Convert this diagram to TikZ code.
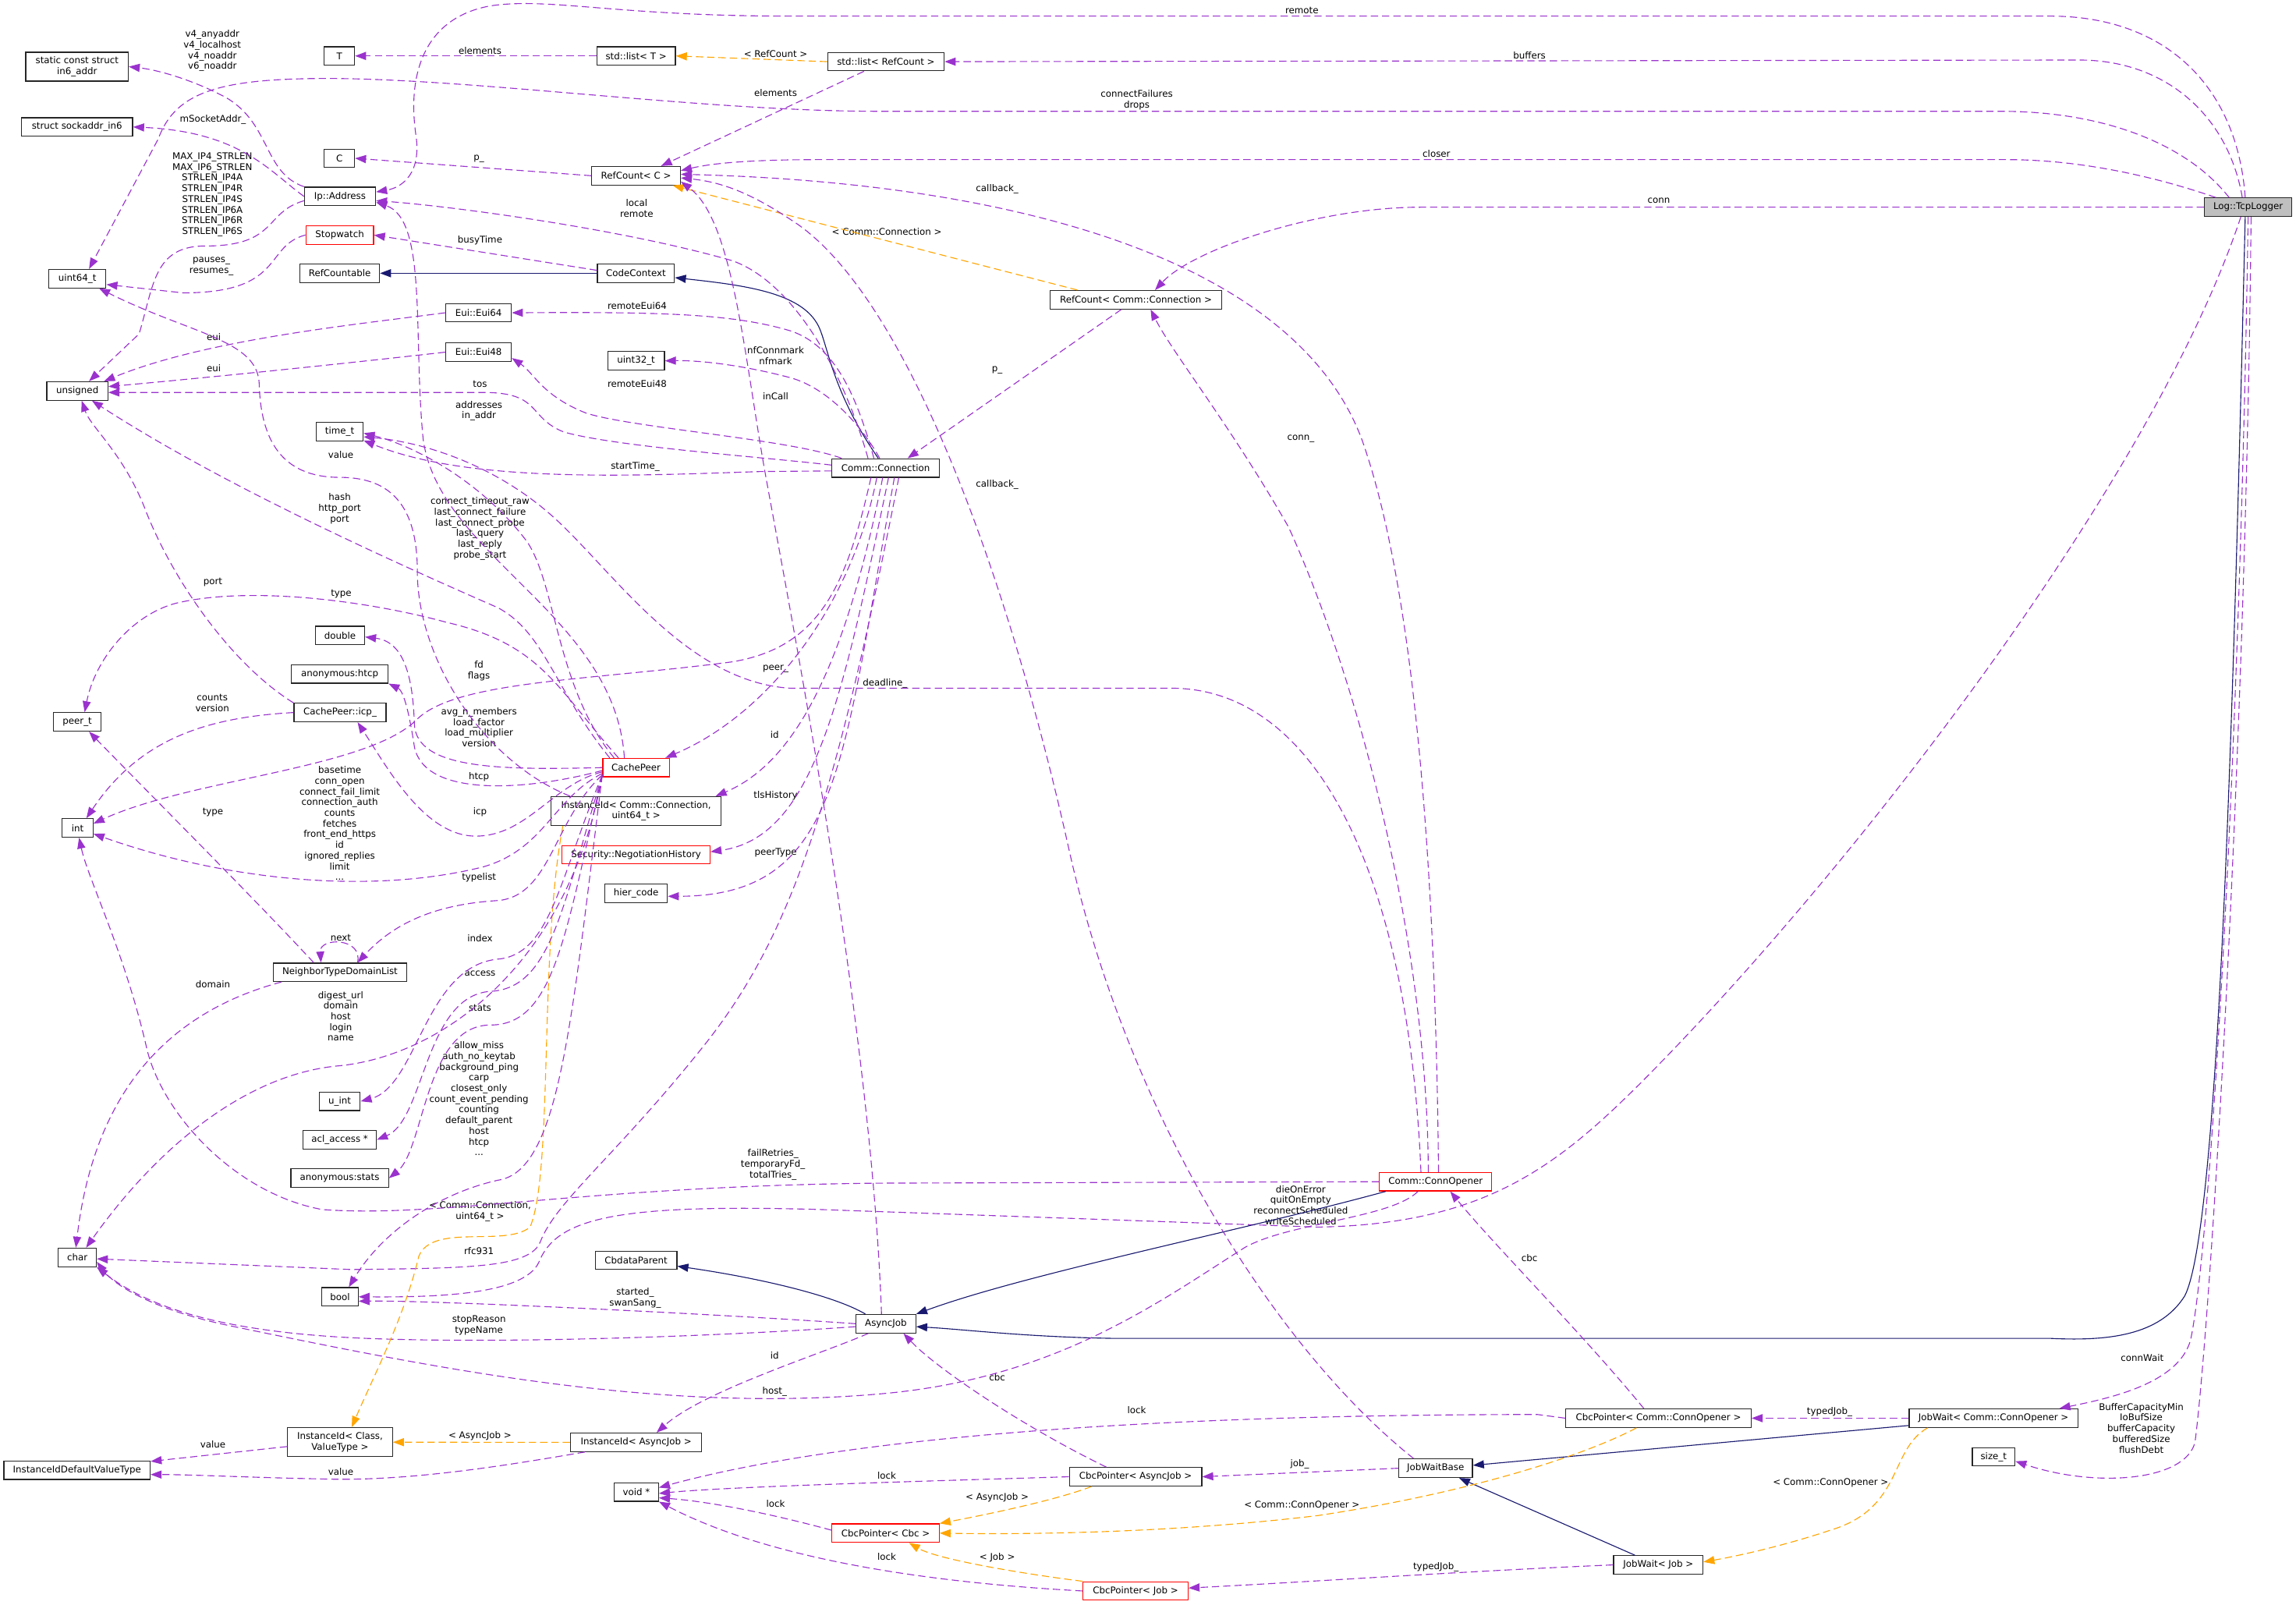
\documentclass[tikz,border=0pt]{standalone}
\usepackage{fontspec}
\setmainfont{DejaVu Sans}
\usetikzlibrary{arrows.meta}
\definecolor{cPurple}{HTML}{9A32CD}
\definecolor{cOrange}{HTML}{FFA500}
\definecolor{cBlue}{HTML}{191970}
\begin{document}
\begin{tikzpicture}[x=1pt,y=-1pt,
  every node/.style={font=\fontsize{6.3pt}{7.3pt}\selectfont},
  cls/.style={draw=black!85, fill=white, line width=0.65pt, inner sep=0pt, minimum height=12.6pt, align=center},
  redcls/.style={cls, draw=red},
  lbl/.style={inner sep=0pt, align=center},
  mem/.style={draw=cPurple, line width=0.6pt, dash pattern=on 5pt off 2.7pt, -{Triangle[length=7.5pt,width=5.5pt]}},
  tpl/.style={draw=cOrange, line width=0.6pt, dash pattern=on 5pt off 2.7pt, -{Triangle[length=7.5pt,width=5.5pt]}},
  inher/.style={draw=cBlue, line width=0.6pt, -{Triangle[length=7.5pt,width=5.5pt]}}]
\useasboundingbox (0,0) rectangle (1568,1096);
\fill[white] (0,0) rectangle (1568,1096);

% ---------------- nodes ----------------
\node[cls, minimum width=59.6pt, fill=black!25] (tcp) at (1535.3,141.5) {Log::TcpLogger};
\node[cls, minimum width=70pt, minimum height=19.7pt] (in6) at (52.6,45.5) {static const struct\\in6\_addr};
\node[cls, minimum width=76pt] (sock) at (52.6,86.7) {struct sockaddr\_in6};
\node[cls, minimum width=20.7pt] (T) at (231.8,38.2) {T};
\node[cls, minimum width=53.7pt] (listT) at (434.4,38.2) {std::list< T >};
\node[cls, minimum width=79.6pt] (listRC) at (605,42.1) {std::list< RefCount >};
\node[cls, minimum width=20.7pt] (C) at (231.8,108.1) {C};
\node[cls, minimum width=60.5pt] (rcC) at (434.4,120) {RefCount< C >};
\node[cls, minimum width=48.6pt] (ip) at (232.2,134.1) {Ip::Address};
\node[redcls, minimum width=46.2pt] (sw) at (232,160.5) {Stopwatch};
\node[cls, minimum width=54.4pt] (rcable) at (232,186.6) {RefCountable};
\node[cls, minimum width=52.6pt] (cc) at (434.3,186.6) {CodeContext};
\node[cls, minimum width=39.1pt] (u64) at (52.8,190.3) {uint64\_t};
\node[cls, minimum width=44.9pt] (eui64) at (326.8,213.6) {Eui::Eui64};
\node[cls, minimum width=44.9pt] (eui48) at (326.8,240.5) {Eui::Eui48};
\node[cls, minimum width=38.7pt] (u32) at (434.4,246.4) {uint32\_t};
\node[cls, minimum width=41.8pt] (uns) at (52.8,267) {unsigned};
\node[cls, minimum width=32pt] (timet) at (232,294.8) {time\_t};
\node[cls, minimum width=116.9pt] (rcConn) at (775.8,204.7) {RefCount< Comm::Connection >};
\node[cls, minimum width=73.2pt] (conn) at (604.8,319.6) {Comm::Connection};
\node[cls, minimum width=33.6pt] (dbl) at (232.2,434) {double};
\node[cls, minimum width=66pt] (htcp) at (232,460.2) {anonymous:htcp};
\node[cls, minimum width=62.9pt] (icp) at (232.2,486.6) {CachePeer::icp\_};
\node[cls, minimum width=32.3pt] (peert) at (52.8,493) {peer\_t};
\node[cls, minimum width=21pt] (int) at (53,565.4) {int};
\node[redcls, minimum width=45.5pt] (cp) at (434.4,524.2) {CachePeer};
\node[cls, minimum width=116pt, minimum height=19.7pt] (iidConn) at (434.4,553.9) {InstanceId< Comm::Connection,\\uint64\_t >};
\node[redcls, minimum width=101pt] (neg) at (434.4,583.7) {Security::NegotiationHistory};
\node[cls, minimum width=42.8pt] (hier) at (434.4,610.1) {hier\_code};
\node[cls, minimum width=90.7pt] (ntdl) at (232.2,664) {NeighborTypeDomainList};
\node[cls, minimum width=28pt] (uint) at (232,752.1) {u\_int};
\node[cls, minimum width=50pt] (acl) at (232,778.4) {acl\_access *};
\node[cls, minimum width=66.6pt] (stats) at (232,804.6) {anonymous:stats};
\node[cls, minimum width=26pt] (char) at (52.8,858.7) {char};
\node[cls, minimum width=24.8pt] (bool) at (232.2,885.6) {bool};
\node[cls, minimum width=55.7pt] (cbdp) at (434.4,860.7) {CbdataParent};
\node[cls, minimum width=40.8pt] (aj) at (605,904) {AsyncJob};
\node[redcls, minimum width=76.6pt] (co) at (980.4,807) {Comm::ConnOpener};
\node[cls, minimum width=71.7pt, minimum height=19.8pt] (iidCV) at (232.2,984.9) {InstanceId< Class,\\ValueType >};
\node[cls, minimum width=99.9pt] (iidDV) at (52.6,1004) {InstanceIdDefaultValueType};
\node[cls, minimum width=89.7pt] (iidAJ) at (434.4,985) {InstanceId< AsyncJob >};
\node[cls, minimum width=30.2pt] (voidp) at (434.6,1018.9) {void *};
\node[cls, minimum width=90.4pt] (cbcAJ) at (775.5,1008.5) {CbcPointer< AsyncJob >};
\node[redcls, minimum width=73.2pt] (cbcCbc) at (604.8,1047) {CbcPointer< Cbc >};
\node[redcls, minimum width=71.7pt] (cbcJob) at (775.5,1086.5) {CbcPointer< Job >};
\node[cls, minimum width=126.6pt] (cbcCO) at (1132.6,968.5) {CbcPointer< Comm::ConnOpener >};
\node[cls, minimum width=50.4pt] (jwb) at (980.4,1002.7) {JobWaitBase};
\node[cls, minimum width=115.3pt] (jwCO) at (1361.4,968.5) {JobWait< Comm::ConnOpener >};
\node[cls, minimum width=29.1pt] (sizet) at (1361.5,994.9) {size\_t};
\node[cls, minimum width=61pt] (jwJob) at (1132.5,1068.7) {JobWait< Job >};

% ---------------- labels ----------------
\node[lbl] (l1) at (145,34.7) {v4\_anyaddr\\v4\_localhost\\v4\_noaddr\\v6\_noaddr};
\node[lbl] (l2) at (327.8,34.5) {elements};
\node[lbl] (l3) at (145.4,81.5) {mSocketAddr\_};
\node[lbl] (l4) at (145,132.9) {MAX\_IP4\_STRLEN\\MAX\_IP6\_STRLEN\\STRLEN\_IP4A\\STRLEN\_IP4R\\STRLEN\_IP4S\\STRLEN\_IP6A\\STRLEN\_IP6R\\STRLEN\_IP6S};
\node[lbl] (l5) at (327.1,108.2) {p\_};
\node[lbl] (l6) at (434.8,142.3) {local\\remote};
\node[lbl] (l7) at (327.8,164) {busyTime};
\node[lbl] (l8) at (144.4,181.9) {pauses\_\\resumes\_};
\node[lbl] (l9) at (435.1,209) {remoteEui64};
\node[lbl] (l10) at (146,230.1) {eui};
\node[lbl] (l11) at (146,251.5) {eui};
\node[lbl] (l12) at (327.8,262.2) {tos};
\node[lbl] (l13) at (435.1,262.2) {remoteEui48};
\node[lbl] (l14) at (327.1,280.6) {addresses\\in\_addr};
\node[lbl] (l15) at (232.7,310.3) {value};
\node[lbl] (l16) at (433.8,318.6) {startTime\_};
\node[lbl] (l17) at (232,347.4) {hash\\http\_port\\port};
\node[lbl] (l18) at (327.8,361) {connect\_timeout\_raw\\last\_connect\_failure\\last\_connect\_probe\\last\_query\\last\_reply\\probe\_start};
\node[lbl] (l19) at (145.4,397.8) {port};
\node[lbl] (l20) at (233,405.6) {type};
\node[lbl] (l21) at (327.1,458.2) {fd\\flags};
\node[lbl] (l22) at (145,480.2) {counts\\version};
\node[lbl] (l23) at (327.1,496.7) {avg\_n\_members\\load\_factor\\load\_multiplier\\version};
\node[lbl] (l24) at (232,562.3) {basetime\\conn\_open\\connect\_fail\_limit\\connection\_auth\\counts\\fetches\\front\_end\_https\\id\\ignored\_replies\\limit\\...};
\node[lbl] (l25) at (327.1,530.7) {htcp};
\node[lbl] (l26) at (145.4,554.7) {type};
\node[lbl] (l27) at (327.8,554.5) {icp};
\node[lbl] (l28) at (327.1,599.4) {typelist};
\node[lbl] (l29) at (232.7,640.5) {next};
\node[lbl] (l30) at (327.8,640.5) {index};
\node[lbl] (l31) at (145.4,672.4) {domain};
\node[lbl] (l32) at (327.8,665) {access};
\node[lbl] (l33) at (232.7,694) {digest\_url\\domain\\host\\login\\name};
\node[lbl] (l34) at (327.8,688.6) {stats};
\node[lbl] (l35) at (327.1,750.3) {allow\_miss\\auth\_no\_keytab\\background\_ping\\carp\\closest\_only\\count\_event\_pending\\counting\\default\_parent\\host\\htcp\\...};
\node[lbl] (l36) at (527.9,795.4) {failRetries\_\\temporaryFd\_\\totalTries\_};
\node[lbl] (l37) at (327.8,827.5) {< Comm::Connection,\\uint64\_t >};
\node[lbl] (l38) at (327.1,854.6) {rfc931};
\node[lbl] (l39) at (433.8,886.4) {started\_\\swanSang\_};
\node[lbl] (l40) at (327.1,905) {stopReason\\typeName};
\node[lbl] (l41) at (145.4,986.6) {value};
\node[lbl] (l42) at (327.8,980.7) {< AsyncJob >};
\node[lbl] (l43) at (232.7,1004.9) {value};
\node[lbl] (l44) at (889.1,7.4) {remote};
\node[lbl] (l45) at (529.7,36.6) {< RefCount >};
\node[lbl] (l46) at (1044.5,37.6) {buffers};
\node[lbl] (l47) at (529.7,63.2) {elements};
\node[lbl] (l48) at (776.3,68.2) {connectFailures\\drops};
\node[lbl] (l49) at (981,104.9) {closer};
\node[lbl] (l50) at (681,129.3) {callback\_};
\node[lbl] (l51) at (605.6,158.3) {< Comm::Connection >};
\node[lbl] (l52) at (1132.8,137.2) {conn};
\node[lbl] (l53) at (529.7,242.9) {nfConnmark\\nfmark};
\node[lbl] (l54) at (681,252.5) {p\_};
\node[lbl] (l55) at (529.7,270.8) {inCall};
\node[lbl] (l56) at (888.3,299.8) {conn\_};
\node[lbl] (l57) at (681,330.7) {callback\_};
\node[lbl] (l58) at (529.7,456.8) {peer\_};
\node[lbl] (l59) at (604.4,466.7) {deadline\_};
\node[lbl] (l60) at (529,501.9) {id};
\node[lbl] (l61) at (529.7,543.5) {tlsHistory};
\node[lbl] (l62) at (529.7,582.5) {peerType};
\node[lbl] (l63) at (888.3,823) {dieOnError\\quitOnEmpty\\reconnectScheduled\\writeScheduled};
\node[lbl] (l64) at (1044.5,859.2) {cbc};
\node[lbl] (l65) at (529,925.9) {id};
\node[lbl] (l66) at (681,940.8) {cbc};
\node[lbl] (l67) at (529,950.3) {host\_};
\node[lbl] (l68) at (776.3,963.2) {lock};
\node[lbl] (l69) at (887.6,1000) {job\_};
\node[lbl] (l70) at (605.6,1007.7) {lock};
\node[lbl] (l71) at (681,1022.6) {< AsyncJob >};
\node[lbl] (l72) at (529.7,1027) {lock};
\node[lbl] (l73) at (889.1,1028.3) {< Comm::ConnOpener >};
\node[lbl] (l74) at (605.6,1063.1) {lock};
\node[lbl] (l75) at (681,1063.8) {< Job >};
\node[lbl] (l76) at (980.6,1070.3) {typedJob\_};
\node[lbl] (l77) at (1249.5,964.2) {typedJob\_};
\node[lbl] (l78) at (1463,927.4) {connWait};
\node[lbl] (l79) at (1462.3,975.3) {BufferCapacityMin\\IoBufSize\\bufferCapacity\\bufferedSize\\flushDebt};
\node[lbl] (l80) at (1250.2,1012.4) {< Comm::ConnOpener >};

% ---------------- TcpLogger edges ----------------
\draw[mem] ([xshift=-2pt]tcp.north) .. controls (1528,60) and (1480,11) .. (1400,11) -- (540,11) .. controls (420,11) and (375,-2) .. (335,4) .. controls (290,12) and (278,50) .. (284,92) .. controls (288,118) and (275,128) .. ([yshift=3pt]ip.east);
\draw[mem] ([xshift=-4pt]tcp.north) .. controls (1522,80) and (1480,41) .. (1420,41) -- (listRC.east);
\draw[mem] ([xshift=-13pt]tcp.north) .. controls (1495,100) and (1440,76) .. (1366,76) -- (600,76) .. controls (470,76) and (300,50) .. (200,54) .. controls (140,56) and (118,68) .. (108,95) -- ([xshift=8pt]u64.north);
\draw[mem] ([xshift=-22pt]tcp.north) .. controls (1470,120) and (1420,109) .. (1370,109) -- (560,109) .. controls (500,109) and (480,113) .. ([yshift=3.5pt]rcC.east);
\draw[mem] (tcp.west) -- (970,141.5) .. controls (900,141.5) and (815,170) .. ([xshift=13pt]rcConn.north);
\draw[inher] ([xshift=-2pt]tcp.south) .. controls (1525,500) and (1515,840) .. (1492,885) .. controls (1475,912) and (1440,916) .. (1400,914) -- (760,914) .. controls (700,913) and (660,908) .. ([yshift=-2pt]aj.east);
\draw[mem] (tcp.south) .. controls (1530,500) and (1510,850) .. (1496,915) .. controls (1488,945) and (1440,955) .. ([xshift=45pt]jwCO.north);
\draw[mem] ([xshift=2pt]tcp.south) .. controls (1534,500) and (1510,900) .. (1499,985) .. controls (1492,1012) and (1430,1016) .. ([yshift=-3pt]sizet.east);
\draw[mem] ([xshift=-5pt]tcp.south) .. controls (1470,330) and (1260,600) .. (1120,740) .. controls (1060,800) and (1010,836) .. (900,838) -- (560,826) .. controls (420,822) and (380,832) .. (368,862) .. controls (358,884) and (300,886) .. (bool.east);

% ---------------- lists / refcount ----------------
\draw[mem] (listT.west) -- (T.east);
\draw[tpl] (listRC.west) -- (listT.east);
\draw[mem] ([xshift=-15pt]listRC.south) -- ([xshift=17pt]rcC.north);
\draw[mem] (rcC.west) -- (C.east);

% ---------------- Ip::Address ----------------
\draw[mem] (ip.north west) .. controls (180,118) and (185,85) .. (155,67) .. controls (135,56) and (110,48) .. (in6.east);
\draw[mem] (ip.west) .. controls (185,118) and (165,90) .. (sock.east);
\draw[mem] ([yshift=-3pt]ip.west) .. controls (180,145) and (190,168) .. (140,168) .. controls (105,168) and (105,195) .. (95,228) -- ([xshift=8pt]uns.north);

% ---------------- Stopwatch / CodeContext ----------------
\draw[mem] (sw.west) .. controls (180,168) and (195,200) .. (125,200) -- ([yshift=-4pt]u64.east);
\draw[mem] ([yshift=2pt]cc.west) -- (sw.east);
\draw[inher] (cc.west) -- (rcable.east);

% ---------------- Comm::Connection ----------------
\draw[inher] ([xshift=-5pt]conn.north) .. controls (570,270) and (566,240) .. (560,225) .. controls (550,200) and (510,195) .. ([yshift=-3pt]cc.east);
\draw[mem] ([xshift=-12pt]conn.north) .. controls (575,250) and (540,192) .. (500,178) .. controls (420,155) and (300,140) .. ([yshift=-3pt]ip.east);
\draw[mem] ([xshift=-8pt]conn.north) .. controls (585,270) and (570,236) .. (540,226) .. controls (500,214) and (450,213) .. (eui64.east);
\draw[mem] ([xshift=-30pt]conn.north) .. controls (540,300) and (430,292) .. (400,282) .. controls (370,270) and (365,255) .. ([yshift=-4pt]eui48.east);
\draw[mem] ([xshift=-4pt]conn.north) .. controls (588,290) and (565,265) .. (540,258) .. controls (510,250) and (480,246) .. (u32.east);
\draw[mem] ([yshift=2pt]conn.west) .. controls (520,312) and (420,305) .. (385,295) .. controls (360,285) and (370,268) .. (330,268) -- ([yshift=-1pt]uns.east);
\draw[mem] ([yshift=-2pt]conn.west) -- (520,322) .. controls (430,325) and (320,330) .. ([yshift=-6pt]timet.east);
\draw[mem] ([xshift=-10pt]rcConn.south) -- ([xshift=15pt]conn.north);
\draw[tpl] ([xshift=-40pt]rcConn.north) -- ([xshift=25pt]rcC.south);
\draw[mem] ([xshift=-10pt]conn.south) .. controls (578,400) and (560,442) .. (500,452) .. controls (400,465) and (310,465) .. (284,492) .. controls (250,525) and (130,532) .. ([yshift=3pt]int.east);
\draw[mem] ([xshift=-6pt]conn.south) .. controls (580,420) and (520,490) .. ([xshift=20pt]cp.north);
\draw[mem] ([xshift=-2pt]conn.south) .. controls (578,450) and (545,520) .. ([xshift=-4pt]iidConn.north east);
\draw[mem] ([xshift=2pt]conn.south) .. controls (575,480) and (555,572) .. ([yshift=2pt]neg.east);
\draw[mem] ([xshift=6pt]conn.south) .. controls (575,520) and (575,612) .. ([yshift=-2pt]hier.east);
\draw[mem] ([xshift=9pt]conn.south) .. controls (570,550) and (540,640) .. (480,715) .. controls (420,790) and (380,820) .. (369,848) .. controls (362,866) and (320,866) .. (240,867) -- ([yshift=-1pt]char.east);

% ---------------- Comm::ConnOpener ----------------
\draw[mem] ([xshift=-5pt]co.north) .. controls (975,650) and (930,470) .. (880,360) .. controls (840,290) and (800,240) .. ([xshift=10pt]rcConn.south);
\draw[mem] ([xshift=2pt]co.north) .. controls (980,560) and (962,390) .. (930,300) .. controls (885,180) and (700,125) .. ([yshift=1pt]rcC.east);
\draw[mem] ([xshift=-10pt]co.north) .. controls (962,600) and (900,470) .. (800,470) -- (540,470) .. controls (470,466) and (420,392) .. (380,355) .. controls (340,318) and (290,302) .. ([yshift=-3.5pt]timet.east);
\draw[mem] (co.west) -- (600,808) .. controls (400,810) and (300,832) .. (220,826) .. controls (160,815) and (110,760) .. (100,715) .. controls (85,650) and (60,600) .. ([xshift=1pt]int.south);
\draw[mem] ([xshift=-12pt]co.south) .. controls (950,832) and (880,835) .. (850,852) .. controls (790,890) and (720,942) .. (600,952) .. controls (450,965) and (300,935) .. (160,906) .. controls (110,896) and (80,880) .. ([yshift=-3pt]char.east);
\draw[inher] ([xshift=-34pt]co.south) .. controls (850,840) and (700,870) .. (aj.north east);

% ---------------- AsyncJob ----------------
\draw[inher] ([xshift=-14pt]aj.north) .. controls (570,885) and (520,873) .. ([yshift=-4pt]cbdp.east);
\draw[mem] (aj.west) .. controls (500,898) and (300,888) .. ([yshift=-3pt]bool.east);
\draw[mem] ([yshift=-2pt]aj.west) .. controls (500,912) and (350,918) .. (250,914) .. controls (150,910) and (100,892) .. (char.south east);
\draw[mem] ([xshift=-12pt]aj.south) .. controls (560,925) and (480,950) .. ([xshift=14pt]iidAJ.north);
\draw[mem] ([xshift=-3pt]aj.north) .. controls (595,700) and (540,420) .. (522,320) .. controls (508,240) and (500,150) .. ([yshift=-4pt]rcC.east);

% ---------------- JobWait / CbcPointer ----------------
\draw[mem] ([xshift=-15pt]jwb.north) .. controls (870,920) and (770,760) .. (730,580) .. controls (690,400) and (620,200) .. (540,150) .. controls (510,130) and (490,124) .. ([yshift=-1.5pt]rcC.east);
\draw[mem] (jwb.west) -- (cbcAJ.east);
\draw[mem] ([xshift=-20pt]cbcAJ.north) .. controls (700,975) and (640,935) .. ([xshift=12pt]aj.south);
\draw[mem] (cbcAJ.west) .. controls (650,1011) and (500,1015) .. ([yshift=-1pt]voidp.east);
\draw[mem] (cbcCO.west) -- (1050,966) .. controls (850,966) and (600,975) .. ([yshift=3pt]voidp.east);
\draw[mem] ([yshift=2pt]cbcCbc.west) .. controls (520,1032) and (480,1025) .. ([yshift=-4pt]voidp.east);
\draw[mem] (cbcJob.west) .. controls (620,1080) and (520,1062) .. (voidp.south east);
\draw[mem] ([xshift=-10pt]cbcCO.north) .. controls (1080,910) and (1020,850) .. ([xshift=10pt]co.south);
\draw[mem] (jwCO.west) -- (cbcCO.east);
\draw[inher] ([yshift=-5pt]jwCO.west) -- ([yshift=2pt]jwb.east);
\draw[tpl] ([xshift=-45pt]jwCO.south) .. controls (1290,990) and (1300,1030) .. (1250,1045) .. controls (1220,1055) and (1190,1062) .. ([yshift=2pt]jwJob.east);
\draw[inher] ([xshift=-16pt]jwJob.north) -- ([xshift=16pt]jwb.south);
\draw[mem] (jwJob.west) .. controls (1000,1073) and (900,1080) .. ([yshift=2pt]cbcJob.east);
\draw[tpl] ([xshift=-30pt]cbcAJ.south) .. controls (720,1025) and (670,1035) .. (cbcCbc.north east);
\draw[tpl] ([xshift=-15pt]cbcCO.south) .. controls (1080,995) and (1000,1020) .. (900,1035) .. controls (800,1047) and (700,1048) .. (cbcCbc.east);
\draw[tpl] (cbcJob.north west) .. controls (700,1075) and (640,1065) .. ([xshift=16pt]cbcCbc.south);

% ---------------- InstanceId ----------------
\draw[tpl] (iidAJ.west) -- (iidCV.east);
\draw[tpl] ([xshift=-50pt]iidConn.south) .. controls (368,650) and (378,800) .. (362,838) .. controls (345,852) and (295,835) .. (286,858) .. controls (276,900) and (255,940) .. ([xshift=8pt]iidCV.north);
\draw[mem] ([yshift=-3pt]iidCV.west) -- ([yshift=6pt]iidDV.east);
\draw[mem] ([xshift=-35pt]iidAJ.south) .. controls (350,1000) and (280,1012) .. (220,1010) .. controls (170,1009) and (130,1007) .. ([yshift=-3pt]iidDV.east);
\draw[mem] ([xshift=-45pt]iidConn.north) .. controls (330,520) and (285,450) .. (285,390) .. controls (285,340) and (262,326) .. (232,326) .. controls (192,326) and (178,300) .. (177,262) .. controls (176,232) and (130,228) .. ([xshift=-5pt]u64.south east);

% ---------------- CachePeer ----------------
\draw[mem] ([xshift=-15pt]cp.north) .. controls (380,470) and (380,400) .. (360,370) .. controls (330,330) and (285,305) .. ([yshift=-1pt]timet.east);
\draw[mem] ([xshift=-8pt]cp.north) .. controls (420,420) and (300,380) .. (289,300) .. controls (282,230) and (292,150) .. ([yshift=-4pt]ip.east);
\draw[mem] ([xshift=-18pt]cp.north) .. controls (378,470) and (372,432) .. (340,415) .. controls (260,380) and (150,330) .. ([xshift=10pt]uns.south);
\draw[mem] ([xshift=-12pt]cp.north) .. controls (380,470) and (370,440) .. (305,425) .. controls (250,410) and (170,400) .. (120,412) .. controls (90,420) and (65,450) .. ([xshift=5pt]peert.north);
\draw[mem] (cp.west) .. controls (340,526) and (285,525) .. (283,495) .. controls (282,460) and (275,438) .. ([yshift=-1pt]dbl.east);
\draw[mem] ([yshift=-2pt]cp.west) .. controls (360,540) and (290,545) .. (283,510) .. controls (280,490) and (276,472) .. (htcp.south east);
\draw[mem] ([yshift=-3pt]cp.west) .. controls (378,535) and (360,571) .. (325,571) .. controls (290,571) and (265,525) .. ([xshift=12pt]icp.south);
\draw[mem] ([yshift=-4pt]cp.west) .. controls (378,545) and (372,580) .. (330,592) .. controls (250,612) and (150,600) .. ([yshift=-4pt]int.east);
\draw[mem] ([yshift=-5pt]cp.west) .. controls (378,560) and (376,612) .. (340,615) .. controls (290,618) and (265,635) .. ([xshift=12pt]ntdl.north);
\draw[mem] ([yshift=-5pt]cp.west) .. controls (382,600) and (376,652) .. (340,655) .. controls (290,660) and (285,742) .. (uint.east);
\draw[mem] ([yshift=-5pt]cp.west) .. controls (384,620) and (376,675) .. (335,677) .. controls (290,680) and (290,765) .. (acl.east);
\draw[mem] ([yshift=-5pt]cp.west) .. controls (386,640) and (378,700) .. (335,700) .. controls (290,700) and (290,785) .. (stats.east);
\draw[mem] ([yshift=-5pt]cp.west) .. controls (388,660) and (300,722) .. (230,728) .. controls (170,734) and (110,780) .. ([xshift=6pt]char.north);
\draw[mem] ([yshift=-5pt]cp.west) .. controls (390,700) and (382,800) .. (340,806) .. controls (300,815) and (262,840) .. ([xshift=6pt]bool.north);

% ---------------- icp_ / NTDL / Eui ----------------
\draw[mem] (icp.north west) .. controls (160,455) and (120,400) .. (100,350) .. controls (85,310) and (62,292) .. ([xshift=3pt]uns.south);
\draw[mem] (icp.west) .. controls (140,490) and (95,505) .. ([xshift=6pt]int.north);
\draw[mem] ([xshift=-18pt]ntdl.north) .. controls (175,615) and (100,540) .. ([xshift=8pt]peert.south);
\draw[mem] ([xshift=-40pt]ntdl.south) .. controls (120,690) and (65,740) .. ([xshift=-1pt]char.north);
\draw[mem] ([xshift=12pt]ntdl.north) .. controls (248,640) and (218,640) .. ([xshift=-13pt]ntdl.north);
\draw[mem] (eui64.west) .. controls (240,222) and (140,232) .. ([xshift=-3pt]uns.north east);
\draw[mem] (eui48.west) .. controls (220,250) and (140,258) .. ([yshift=3pt]uns.east);
\end{tikzpicture}
\end{document}
